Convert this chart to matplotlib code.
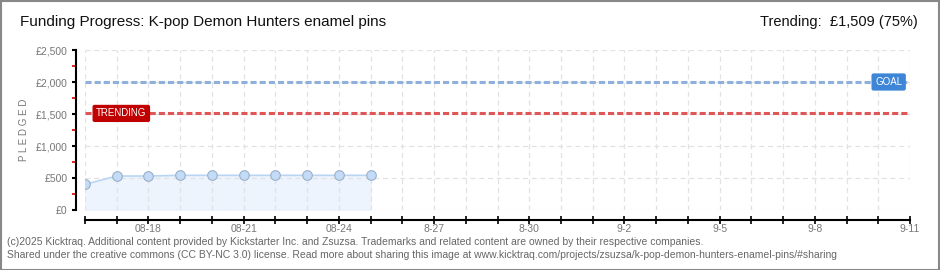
import matplotlib
matplotlib.use("Agg")
import matplotlib.pyplot as plt
import matplotlib.dates as mdates
from matplotlib.ticker import MultipleLocator
from matplotlib.patches import Rectangle
import numpy as np

# data
dates = np.arange(np.datetime64("2025-08-16"), np.datetime64("2025-08-26"))
pledged = [401, 531, 531, 542, 542, 542, 542, 542, 542, 542]
goal = 2000
trending = 1509
x_start = np.datetime64("2025-08-16")
x_end = np.datetime64("2025-09-11")
tick_dates = [np.datetime64("2025-08-18") + np.timedelta64(3 * i, "D") for i in range(9)]
tick_labels = ["08-18", "08-21", "08-24", "8-27", "8-30", "9-2", "9-5", "9-8", "9-11"]
y_ticks = [0, 500, 1000, 1500, 2000, 2500]
y_labels = ["£0", "£500", "£1,000", "£1,500", "£2,000", "£2,500"]


def dnum(d):
    return mdates.date2num(d.astype("datetime64[D]").astype(object))


plt.rcParams["font.family"] = ["Liberation Sans", "DejaVu Sans"]

W, H = 940, 270
fig = plt.figure(figsize=(W / 100, H / 100), dpi=100)
fig.patch.set_facecolor("white")

# outer border
fig.add_artist(Rectangle((0.5 / W, 0.5 / H), 1 - 1.5 / W, 1 - 1.5 / H,
                         transform=fig.transFigure, fill=False,
                         edgecolor="#888888", linewidth=1.5))

# plot area in pixels: x 85..910, y 50..210 (from top)
left, right, top, bottom = 85, 910, 50, 210
ax = fig.add_axes([left / W, 1 - bottom / H, (right - left) / W, (bottom - top) / H])
ax.set_facecolor("white")

xs = [dnum(d) for d in dates]
ax.set_xlim(dnum(x_start), dnum(x_end))
ax.set_ylim(0, 2500)

# grid
ax.xaxis.set_minor_locator(mdates.DayLocator())
ax.set_xticks([dnum(d) for d in tick_dates])
ax.set_xticklabels(tick_labels)
ax.set_yticks(y_ticks)
ax.set_yticklabels(y_labels)
ax.yaxis.set_minor_locator(MultipleLocator(250))
ax.grid(True, which="major", axis="y", color="#e2e2e2", linestyle=(0, (4, 3)), linewidth=0.9)
ax.grid(True, which="both", axis="x", color="#e2e2e2", linestyle=(0, (4, 3)), linewidth=0.9)

for s in ["top", "right"]:
    ax.spines[s].set_visible(False)
ax.spines["left"].set_position(("outward", 6.5))
ax.spines["bottom"].set_position(("outward", 7.2))
ax.spines["left"].set_linewidth(1.5)
ax.spines["bottom"].set_linewidth(1.5)

ax.tick_params(axis="y", which="major", direction="out", length=3, width=1.5,
               labelsize=7.5, labelcolor="#777777", pad=3)
ax.tick_params(axis="y", which="minor", direction="out", length=3, width=1.2, color="#dd0000")
ax.tick_params(axis="x", which="both", direction="inout", length=6, width=1.2,
               labelsize=7.5, labelcolor="#777777", pad=0)
ax.set_ylabel("P L E D G E D", fontsize=7, color="#777777", labelpad=5)

# goal and trending lines
ax.axhline(goal, color="#8fb0dc", linestyle=(0, (2, 1)), linewidth=2.2, zorder=2)
ax.axhline(trending, color="#e05555", linestyle=(0, (2, 1)), linewidth=2.2, zorder=2)

# pledged series
ax.fill_between(xs, 0, pledged, color="#edf4fd", zorder=1)
ax.plot(xs, pledged, color="#b9d5f3", linewidth=1.2, zorder=3)
ax.scatter(xs, pledged, s=48, facecolor="#c3dbf6", edgecolor="#9ab0c8", linewidth=0.8, zorder=4)

# labels on lines
ax.text(dnum(x_start) + 0.35, trending, "TRENDING",
        fontsize=7, color="white", va="center", ha="left", zorder=5,
        bbox=dict(boxstyle="round,pad=0.3,rounding_size=0.15", facecolor="#c00000", edgecolor="#c00000"))
ax.text(dnum(x_end) - 1.1, goal, "GOAL",
        fontsize=7, color="white", va="center", ha="left", zorder=5,
        bbox=dict(boxstyle="round,pad=0.3,rounding_size=0.15", facecolor="#3d85d6", edgecolor="#3d85d6"))

# titles
fig.text(20 / W, 1 - 22 / H, "Funding Progress: K-pop Demon Hunters enamel pins",
         fontsize=11, color="#111111", va="center", ha="left")
fig.text(918 / W, 1 - 22 / H, "Trending:  £1,509 (75%)",
         fontsize=10.5, color="#111111", va="center", ha="right")

# footer
fig.text(7 / W, 1 - 242 / H,
         "(c)2025 Kicktraq. Additional content provided by Kickstarter Inc. and Zsuzsa. "
         "Trademarks and related content are owned by their respective companies.",
         fontsize=7.5, color="#666666", va="center", ha="left")
fig.text(7 / W, 1 - 255 / H,
         "Shared under the creative commons (CC BY-NC 3.0) license. Read more about sharing this image at "
         "www.kicktraq.com/projects/zsuzsa/k-pop-demon-hunters-enamel-pins/#sharing",
         fontsize=7.5, color="#666666", va="center", ha="left")

fig.savefig("out.png", dpi=100, facecolor="white")
